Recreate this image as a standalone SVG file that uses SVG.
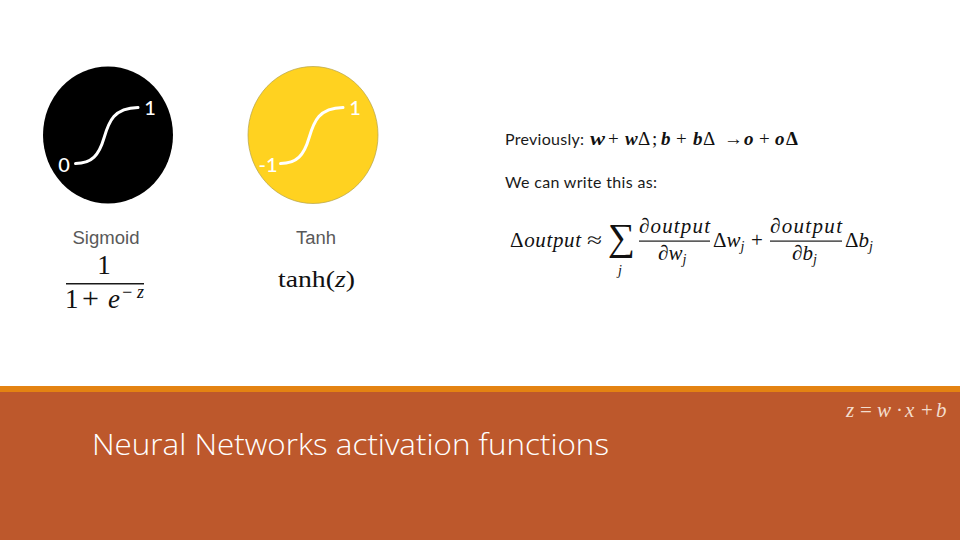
<svg xmlns="http://www.w3.org/2000/svg" width="960" height="540" viewBox="0 0 960 540">
<style>
.lab{font-family:"Liberation Sans",Arial,sans-serif;font-size:18px;fill:#595959}
.val{font-family:Lato,"Liberation Sans",sans-serif;font-size:20px;fill:#fff;font-weight:500}
.cal{font-family:Lato,"Liberation Sans",sans-serif;font-size:16px;fill:#1a1a1a}
.m{font-family:"Liberation Serif","DejaVu Serif",serif;fill:#111}
.s{font-size:19px}
.l{font-size:21px}
.j{font-size:14px;font-style:italic}
.i{font-style:italic}
.b{font-weight:bold}
.bar{fill:#1a1a1a}
.curve{fill:none;stroke:#fff;stroke-width:3;stroke-linecap:round}
.z{font-family:"Liberation Serif",serif;font-size:21px;fill:#f3ddcd}
</style>
<rect width="960" height="540" fill="#fff"/>
<rect x="0" y="386" width="960" height="6" fill="#e48312"/>
<rect x="0" y="392" width="960" height="148" fill="#bd582c"/>
<g id="sigmoid">
<ellipse cx="108" cy="135" rx="65" ry="68.500" fill="#000"/>
<path class="curve" d="M75.500 163.500C92 163.500 99 155 104 138C109 121 114 108 138 107.500"/>
<text class="val" x="150" y="115" text-anchor="middle">1</text>
<text class="val" x="64" y="172" text-anchor="middle">0</text>
<text class="lab" x="106" y="243.500" text-anchor="middle" textLength="67" lengthAdjust="spacingAndGlyphs">Sigmoid</text>
<text class="m" x="104" y="274" font-size="27" text-anchor="middle">1</text>
<rect class="bar" x="66" y="283" width="78" height="1.500"/>
<text class="m" x="65" y="308" font-size="27">1</text>
<text class="m" x="82" y="308" font-size="30">+</text>
<text class="m i" x="108" y="308" font-size="27">e</text>
<text class="m i" x="121" y="298" font-size="18" textLength="23">−z</text>
</g>
<g id="tanh">
<ellipse cx="313" cy="135" rx="65" ry="68.500" fill="#ffd220" stroke="#b3a24a" stroke-width="0.700"/>
<path class="curve" d="M280.500 163.500C297 163.500 304 155 309 138C314 121 319 108 343 107.500"/>
<text class="val" x="355" y="115" text-anchor="middle">1</text>
<text class="val" x="268" y="172" text-anchor="middle">-1</text>
<text class="lab" x="316" y="243.500" text-anchor="middle" textLength="40" lengthAdjust="spacingAndGlyphs">Tanh</text>
<text class="m" x="278" y="287" font-size="24" textLength="77" lengthAdjust="spacingAndGlyphs">tanh(<tspan class="i">z</tspan>)</text>
</g>
<g id="formula">
<text class="cal" x="505" y="145" textLength="79">Previously:</text>
<text class="m s b i" x="590" y="145" textLength="15" lengthAdjust="spacingAndGlyphs">w</text>
<text class="m s" x="608" y="145">+</text>
<text class="m s b i" x="625" y="145">w</text>
<text class="m s" x="638" y="145">Δ</text>
<text class="m s" x="652" y="145">;</text>
<text class="m s b i" x="661" y="145">b</text>
<text class="m s" x="676" y="145">+</text>
<text class="m s b i" x="693" y="145">b</text>
<text class="m s" x="703" y="145">Δ</text>
<text class="m s" x="724" y="145" font-size="16">→</text>
<text class="m s b i" x="744" y="145">o</text>
<text class="m s" x="759" y="145">+</text>
<text class="m s b i" x="775" y="145">o</text>
<text class="m s b" x="786" y="145">Δ</text>
<text class="cal" x="505" y="188" textLength="152">We can write this as:</text>
<text class="m l" x="510" y="247" textLength="71">Δ<tspan class="i">output</tspan></text>
<text class="m l" x="587" y="247" textLength="15" lengthAdjust="spacingAndGlyphs">≈</text>
<text class="m" x="608" y="250" font-size="38">∑</text>
<text class="m j" x="618" y="275">j</text>
<text class="m l i" x="639" y="233" textLength="71">∂output</text>
<rect class="bar" x="639" y="240.500" width="71" height="1.200"/>
<text class="m l i" x="658" y="260">∂w<tspan class="j" dy="4">j</tspan></text>
<text class="m l" x="713" y="247">Δ<tspan class="i">w</tspan><tspan class="j" dy="4">j</tspan></text>
<text class="m l" x="751" y="247">+</text>
<text class="m l i" x="770" y="233" textLength="72">∂output</text>
<rect class="bar" x="770" y="240.500" width="72" height="1.200"/>
<text class="m l i" x="792" y="260">∂b<tspan class="j" dy="4">j</tspan></text>
<text class="m l" x="845" y="247">Δ<tspan class="i">b</tspan><tspan class="j" dy="4">j</tspan></text>
</g>
<g id="title">
<text x="92" y="455" font-family="'Open Sans','Noto Sans',sans-serif" font-weight="300" font-size="29" fill="#fff" textLength="517" lengthAdjust="spacingAndGlyphs">Neural Networks activation functions</text>
</g>
<g id="zeq">
<text class="z" y="417"><tspan class="i" x="846">z</tspan><tspan x="860">=</tspan><tspan class="i" x="877">w</tspan><tspan x="896">·</tspan><tspan class="i" x="905">x</tspan><tspan x="921">+</tspan><tspan class="i" x="936">b</tspan></text>
</g>
<g id="connectors"/>
</svg>
